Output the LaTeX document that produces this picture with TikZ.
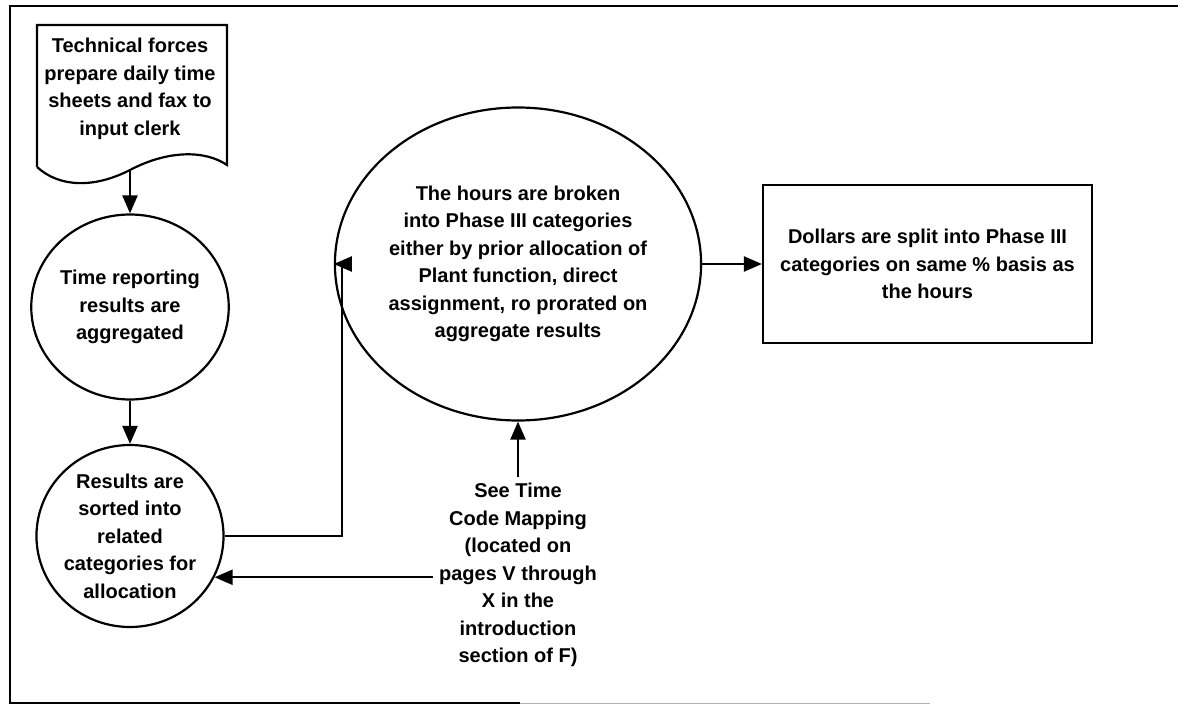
\documentclass[tikz,border=0pt]{standalone}
\usepackage{fontspec}
\setmainfont{Liberation Sans}
\usetikzlibrary{shapes.geometric,arrows.meta}
\begin{document}
\begin{tikzpicture}[x=1pt,y=-1pt]
	\tikzstyle{txt}=[align=center,font=\fontsize{20}{27.5}\selectfont\bfseries]
	\tikzstyle{bubble}=[txt,ellipse,draw=black,line width=2.2pt,inner sep=0pt]
	\tikzstyle{block}=[txt,rectangle,draw=black,line width=2.2pt,inner sep=0pt]
	\tikzstyle{edge}=[draw,line width=2.2pt,-{Triangle[length=18pt,width=15pt]}]
	\useasboundingbox (0,0) rectangle (1178,706);
	\draw[line width=2.4pt] (1178,6) -- (10,6) -- (10,703) -- (520,703);
	\draw[black!30,line width=0.8pt] (520,703) -- (930,703);
	\draw[line width=2.2pt] (37,167) -- (37,25) -- (227,25) -- (227,165)
		.. controls (205,150) and (168,150) .. (130,170)
		.. controls (95,188) and (60,188) .. (37,167);
	\node [txt] (tech) at (130,89) {Technical forces\\prepare daily time\\sheets and fax to\\input clerk};
	\coordinate (techb) at (130,169);
	\node [bubble,minimum width=168pt,minimum height=185pt] (time) at (130,307) {Time reporting\\results are\\aggregated};
	\node [bubble,minimum width=166pt,minimum height=182pt] (sorted) at (130,536) {Results are\\sorted into\\related\\categories for\\allocation};
	\node [bubble,minimum width=284pt,minimum height=313pt] (hours) at (518,264) {The hours are broken\\into Phase III categories\\either by prior allocation of\\Plant function, direct\\assignment, ro prorated on\\aggregate results};
	\node [block,minimum width=329pt,minimum height=158pt] (dollars) at (927.5,264) {Dollars are split into Phase III\\categories on same \% basis as\\the hours};
	\node [txt,inner sep=6pt] (see) at (518,575) {See Time\\Code Mapping\\(located on\\pages V through\\X in the\\introduction\\section of F)};
	\path[edge] (techb) -- (time);
	\path[edge] (time) -- (sorted);
	\path[edge] (sorted.east) -- ++(117,0) |- (hours.west);
	\path[edge] (hours) -- (dollars);
	\path[edge] (see.north) -- (hours);
	\path[edge] (see.west |- sorted.-26) -- (sorted.-26);
\end{tikzpicture}
\end{document}
